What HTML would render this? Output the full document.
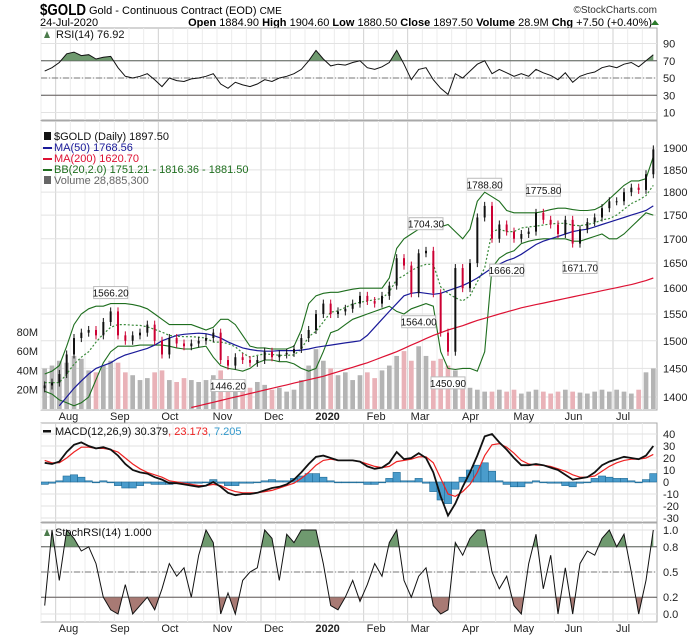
<!DOCTYPE html>
<html><head><meta charset="utf-8">
<style>
html,body{margin:0;padding:0;background:#fff;}
svg{display:block;font-family:"Liberation Sans",sans-serif;}
</style></head>
<body>
<svg id="chart" width="700" height="639" viewBox="0 0 700 639" xmlns="http://www.w3.org/2000/svg">
  <text x="40" y="15" font-size="16" font-weight="bold" textLength="46" lengthAdjust="spacingAndGlyphs">$GOLD</text>
  <text x="89" y="14" font-size="11">Gold - Continuous Contract (EOD) <tspan font-size="10">CME</tspan></text>
  <text x="657" y="13" font-size="10" text-anchor="end" fill="#333">©StockCharts.com</text>
  <text x="40" y="26" font-size="11">24-Jul-2020</text>
  <text x="652" y="26" font-size="11" text-anchor="end"><tspan font-weight="bold">Open</tspan> 1884.90 <tspan font-weight="bold">High</tspan> 1904.60 <tspan font-weight="bold">Low</tspan> 1880.50 <tspan font-weight="bold">Close</tspan> 1897.50 <tspan font-weight="bold">Volume</tspan> 28.9M <tspan font-weight="bold">Chg</tspan> +7.50 (+0.40%)</text>
  <polygon points="651,25 659,25 655,20" fill="#2a7a2a"/>
  <g id="layers"></g>
</svg>
<script>
const N = 84;
const closes = [1420,1425,1440,1475,1505,1515,1520,1510,1535,1555,1510,1500,1510,1515,1530,1500,1475,1505,1495,1490,1495,1500,1505,1515,1465,1455,1470,1465,1460,1465,1480,1470,1475,1478,1485,1505,1520,1550,1570,1550,1555,1560,1570,1585,1575,1570,1585,1605,1660,1645,1590,1670,1675,1590,1515,1480,1640,1600,1650,1745,1770,1700,1730,1715,1700,1710,1715,1755,1740,1730,1710,1740,1690,1720,1735,1745,1765,1780,1780,1800,1810,1805,1840,1897];
const volumes = [42,45,50,48,55,52,40,38,45,50,48,38,35,30,32,38,40,30,28,32,30,28,30,35,40,30,28,25,22,28,25,20,22,18,20,30,45,62,50,42,35,38,30,35,38,32,40,45,55,60,50,65,55,50,52,45,40,30,22,20,18,18,20,18,20,16,18,20,18,16,18,20,18,17,16,18,20,18,20,18,16,20,38,42];
const ma50 = [null,null,1385,1400,1415,1428,1440,1450,1455,1460,1468,1474,1478,1482,1486,1492,1500,1505,1510,1512,1513,1514,1513,1510,1505,1498,1492,1487,1484,1482,1481,1481,1482,1482,1482,1483,1485,1488,1490,1492,1494,1496,1498,1500,1510,1525,1540,1555,1570,1585,1590,1592,1590,1588,1590,1595,1600,1605,1612,1620,1630,1640,1648,1655,1660,1668,1678,1688,1695,1700,1705,1710,1715,1718,1720,1725,1730,1735,1740,1745,1750,1755,1760,1770];
const ma200 = [null,null,null,null,null,null,null,null,null,null,null,null,null,null,null,null,null,null,null,null,1382,1385,1388,1391,1394,1397,1400,1403,1406,1409,1412,1415,1418,1421,1424,1427,1430,1433,1436,1440,1444,1448,1452,1456,1460,1465,1470,1475,1480,1486,1492,1498,1504,1510,1515,1520,1524,1528,1533,1538,1542,1546,1550,1554,1558,1562,1565,1568,1571,1574,1577,1580,1583,1586,1589,1592,1595,1598,1601,1604,1607,1611,1615,1620];
const bbUpper = [1440,1445,1455,1490,1530,1550,1560,1565,1565,1570,1570,1570,1568,1565,1560,1550,1540,1530,1530,1530,1530,1525,1520,1525,1540,1540,1530,1510,1490,1487,1487,1485,1485,1485,1490,1520,1570,1585,1590,1592,1592,1595,1598,1600,1600,1600,1600,1620,1680,1700,1710,1720,1725,1730,1725,1730,1715,1700,1720,1780,1800,1790,1780,1760,1755,1755,1755,1755,1758,1762,1765,1765,1762,1760,1760,1762,1770,1785,1800,1815,1825,1825,1830,1880];
const bbLower = [1410,1405,1395,1390,1385,1390,1400,1430,1460,1480,1490,1490,1490,1492,1492,1492,1492,1490,1487,1485,1485,1488,1490,1470,1455,1450,1448,1445,1450,1460,1465,1465,1462,1462,1458,1450,1445,1450,1480,1515,1520,1530,1540,1545,1550,1555,1560,1565,1555,1550,1560,1565,1570,1565,1480,1450,1448,1450,1450,1445,1480,1640,1660,1670,1675,1690,1695,1698,1700,1700,1700,1700,1695,1695,1700,1705,1710,1700,1700,1710,1725,1740,1755,1750];
const rsi = [58,62,68,78,80,76,77,72,74,75,62,52,50,52,55,48,40,50,47,46,49,50,52,55,43,38,45,42,40,43,48,46,50,52,55,60,70,82,72,64,66,65,68,70,62,60,63,68,82,66,48,60,62,48,38,31,55,50,58,66,70,55,60,56,52,55,52,60,56,53,48,56,45,52,55,57,62,64,62,66,68,63,70,77];
const macd = [16,15,17,25,31,33,30,28,29,27,22,15,10,8,7,4,2,-1,-1,-2,-3,-4,-3,0,-4,-9,-11,-10,-10,-9,-7,-5,-4,-2,2,8,15,21,22,20,18,18,18,17,13,11,12,16,25,19,20,24,20,8,-12,-28,-18,-4,8,22,38,40,33,27,20,14,14,15,14,12,10,6,2,3,4,8,14,17,19,21,20,19,22,30];
const signal = [18,16,16,20,25,29,29,28,28,27,25,20,15,11,8,6,4,1,0,-1,-2,-3,-3,-2,-3,-6,-8,-9,-9,-9,-8,-7,-5,-3,-1,3,8,14,18,19,18,18,18,17,15,13,12,13,17,18,19,21,21,16,3,-10,-12,-8,-2,8,22,31,32,29,24,18,15,14,14,13,11,9,6,4,4,5,9,13,16,18,19,19,20,23];
const stochRsi = [0.1,1,0.4,1,0.9,0.75,0.8,0.6,0.2,0.05,0,0.35,0,0.1,0.2,0.05,0.3,0.6,0.45,0.55,0.2,0.7,1,0.85,0,0.25,0,0.4,0.5,0.55,1,0.9,0.4,0.95,0.85,1,1,1,0.6,0.1,0.05,0.2,0.4,0.15,0.35,0.6,0.45,0.85,1,0.4,0.2,0.45,0.55,0.1,0,0.05,0.85,0.7,0.9,1,1,0.5,0.3,0.45,0.1,0,0.6,0.95,0.3,0.7,0,0.55,0,0.6,0.75,0.7,0.9,1,0.8,0.95,0.5,0,0.4,1];
const monthLabels = ["Aug","Sep","Oct","Nov","Dec","2020","Feb","Mar","Apr","May","Jun","Jul"];
const monthIdx = [2,9,16,23,30,37,44,50,57,64,71,78];
const priceTicks = [1400,1450,1500,1550,1600,1650,1700,1750,1800,1850,1900];
const volTicks = [20,40,60,80];
const rsiTicks = [10,30,50,70,90];
const macdTicks = [-30,-20,-10,0,10,20,30,40];
const stochTicks = [0.0,0.2,0.5,0.8,1.0];
const annLabels = ["1566.20","1446.20","1704.30","1564.00","1450.90","1788.80","1666.20","1775.80","1671.70"];
const annPrices = [1566.2,1446.2,1704.3,1564.0,1450.9,1788.8,1666.2,1775.8,1671.7];
const annIdx = [9,25,52,51,55,60,63,68,73];
const annAbove = [true,false,true,false,false,true,false,true,false];

const NS = "http://www.w3.org/2000/svg";
const L = 41, R = 657;
const layers = document.getElementById('layers');
function mk(tag, attrs, parent) {
  const e = document.createElementNS(NS, tag);
  for (const k in attrs) e.setAttribute(k, attrs[k]);
  (parent || layers).appendChild(e);
  return e;
}
const bw = (R - L) / N;
const xs = i => L + (i + 0.5) * bw;
const priceY = p => 397 - 815 * Math.log(p / 1400);
const volY = v => 409 - v * 0.965;
const rsiY = v => 78 - (v - 50) * 0.8625;
const macdY = v => 482 - v * 1.2;
const stochY = v => 614 - v * 84;
const gridX = i => xs(i) - bw / 2;

function panel(name, top, bot) {
  const r = mk('rect', {x: L, y: top, width: R - L, height: bot - top, fill: '#fff', stroke: '#a8a8a8'});
  
  
  const g = mk('g', {});
  for (let i = 0; i < N; i += 2) {
    mk('line', {x1: gridX(i), x2: gridX(i), y1: top, y2: bot, stroke: monthIdx.includes(i) ? '#d0d0d0' : '#ececec', 'stroke-width': 1}, g);
  }
  
  
  return g;
}
function hgrid(y, g, color) { mk('line', {x1: L, x2: R, y1: y, y2: y, stroke: color || '#e2e2e2'}, g); }
function axisLabel(txt, x, y, anchor, name, weight) {
  const t = mk('text', {x: x, y: y, 'font-size': 11, 'text-anchor': anchor || 'start', fill: '#222', 'font-weight': weight || 'normal'});
  t.textContent = txt;
  
  
  return t;
}
function pathFrom(arr, fx, fy) {
  let d = '', started = false;
  arr.forEach((v, i) => { if (v === null) return; d += (started ? 'L' : 'M') + fx(i).toFixed(1) + ',' + fy(v).toFixed(1); started = true; });
  return d;
}
function thresholdFill(arr, fy, thr, above, color, name, clipTop, clipBot) {
  const ty = fy(thr);
  const id = 'clip-' + name;
  const cp = mk('clipPath', {id: id});
  mk('rect', above ? {x: L, y: clipTop, width: R - L, height: ty - clipTop} : {x: L, y: ty, width: R - L, height: clipBot - ty}, cp);
  const d = pathFrom(arr, xs, fy) + 'L' + xs(arr.length - 1) + ',' + ty + 'L' + xs(0) + ',' + ty + 'Z';
  const p = mk('path', {d: d, fill: color, 'clip-path': 'url(#' + id + ')'});
  
  
}

// ---------- RSI panel ----------
const rsiTop = 28, rsiBot = 120;
const gR = panel('rsi-panel', rsiTop, rsiBot);
rsiTicks.forEach(t => { hgrid(rsiY(t), gR); axisLabel(String(t), 663, rsiY(t) + 4, 'start', 'rsi-tick-label'); });
mk('line', {x1: L, x2: R, y1: rsiY(70), y2: rsiY(70), stroke: '#555'});
mk('line', {x1: L, x2: R, y1: rsiY(30), y2: rsiY(30), stroke: '#555'});
mk('line', {x1: L, x2: R, y1: rsiY(50), y2: rsiY(50), stroke: '#777', 'stroke-dasharray': '6,2,1,2'});
thresholdFill(rsi, rsiY, 70, true, '#6f9a6f', 'rsi-overbought-fill', rsiTop, rsiBot);
thresholdFill(rsi, rsiY, 30, false, '#a87a74', 'rsi-oversold-fill', rsiTop, rsiBot);
const rsiLine = mk('path', {d: pathFrom(rsi, xs, rsiY), fill: 'none', stroke: '#111', 'stroke-width': 1});


const rl = mk('text', {x: 56, y: 38, 'font-size': 11, fill: '#111'}); rl.textContent = 'RSI(14) 76.92';


mk('polygon', {points: '44,38 47,31 50,38', fill: '#4a7a4a'});

// ---------- Main price panel ----------
const mTop = 121, mBot = 410;
const gM = panel('price-panel', mTop, mBot);
priceTicks.forEach(t => { hgrid(priceY(t), gM); axisLabel(String(t), 663, priceY(t) + 4, 'start', 'price-tick-label'); });
volTicks.forEach(t => axisLabel(t + 'M', 38, volY(t) + 4, 'end', 'volume-tick-label'));
const mc = mk('clipPath', {id: 'mainclip'});
mk('rect', {x: L, y: mTop, width: R - L, height: mBot - mTop}, mc);
const mg = mk('g', {'clip-path': 'url(#mainclip)'});
volumes.forEach((v, i) => {
  const down = i > 0 && closes[i] < closes[i - 1];
  const b = mk('rect', {x: xs(i) - bw * 0.32, y: volY(v), width: bw * 0.64, height: 409 - volY(v), fill: down ? '#e9b2b8' : '#b4b4b4'}, mg);
  
  
});
const bbMid = bbUpper.map((u, i) => (u + bbLower[i]) / 2);
const bu = mk('path', {d: pathFrom(bbUpper, xs, priceY), fill: 'none', stroke: '#1e6e1e', 'stroke-width': 1.1}, mg);


const bl = mk('path', {d: pathFrom(bbLower, xs, priceY), fill: 'none', stroke: '#1e6e1e', 'stroke-width': 1.1}, mg);


const bm = mk('path', {d: pathFrom(bbMid, xs, priceY), fill: 'none', stroke: '#3a8a3a', 'stroke-width': 1.2, 'stroke-dasharray': '2,2'}, mg);


const m200 = mk('path', {d: pathFrom(ma200, xs, priceY), fill: 'none', stroke: '#dd1133', 'stroke-width': 1.2}, mg);


const m50 = mk('path', {d: pathFrom(ma50, xs, priceY), fill: 'none', stroke: '#1a1a99', 'stroke-width': 1.2}, mg);


closes.forEach((c, i) => {
  const o = i > 0 ? closes[i - 1] : c - 5;
  const hi = Math.max(o, c), lo = Math.min(o, c);
  const col = c >= o ? '#111' : '#cc0033';
  const w = mk('line', {x1: xs(i), x2: xs(i), y1: priceY(hi) - 4, y2: priceY(lo) + 4, stroke: col, 'stroke-width': 1}, mg);
  
  
  const b = mk('rect', {x: xs(i) - 1, y: priceY(hi), width: 2, height: Math.max(1, priceY(lo) - priceY(hi)), fill: col}, mg);
  
  
});
annLabels.forEach((t, k) => {
  const x = xs(annIdx[k]);
  const py = priceY(annPrices[k]);
  const y = annAbove[k] ? py - 18 : py + 10;
  const g = mk('g', {});
  
  
  mk('rect', {x: x - 17, y: y - 1, width: 34, height: 12, fill: '#fff', stroke: '#bbb'}, g);
  const tx = mk('text', {x: x, y: y + 9, 'font-size': 10, 'text-anchor': 'middle', fill: '#111'}, g);
  tx.textContent = t;
});
const legendItems = [['$GOLD (Daily) 1897.50', '#111', 140], ['MA(50) 1768.56', '#1a1a99', 151], ['MA(200) 1620.70', '#dd1133', 162], ['BB(20,2.0) 1751.21 - 1816.36 - 1881.50', '#1e6e1e', 173], ['Volume 28,885,300', '#666', 184]];
legendItems.forEach((it, k) => {
  const t = mk('text', {x: 54, y: it[2], 'font-size': 11, fill: it[1]});
  t.textContent = it[0];
  
  
  if (k === 0 || k === 4) mk('rect', {x: 44, y: it[2] - 8, width: 7, height: 8, fill: it[1]});
  else mk('rect', {x: 43, y: it[2] - 4, width: 9, height: 2, fill: it[1]});
});
function monthRow(y, name) {
  monthLabels.forEach((m, k) => axisLabel(m, gridX(monthIdx[k]) + 3, y, 'start', name, m === '2020' ? 'bold' : 'normal'));
}
monthRow(420, 'month-label');

// ---------- MACD panel ----------
const cTop = 423, cBot = 522;
const gC = panel('macd-panel', cTop, cBot);
macdTicks.forEach(t => { hgrid(macdY(t), gC); axisLabel(String(t), 663, macdY(t) + 4, 'start', 'macd-tick-label'); });
const cc = mk('clipPath', {id: 'macdclip'});
mk('rect', {x: L, y: cTop, width: R - L, height: cBot - cTop}, cc);
const cg = mk('g', {'clip-path': 'url(#macdclip)'});
macd.forEach((v, i) => {
  const h = (v - signal[i]);
  const y0 = macdY(0), y1 = macdY(h);
  const b = mk('rect', {x: xs(i) - bw / 2, y: Math.min(y0, y1), width: bw, height: Math.max(0.8, Math.abs(y1 - y0)), fill: '#4a9ccc', stroke: '#1f6a94', 'stroke-width': 0.6}, cg);
  
  
});
const sl = mk('path', {d: pathFrom(signal, xs, macdY), fill: 'none', stroke: '#ee2222', 'stroke-width': 1.2}, cg);


const ml = mk('path', {d: pathFrom(macd, xs, macdY), fill: 'none', stroke: '#111', 'stroke-width': 1.8}, cg);


const mlg = mk('text', {x: 55, y: 435, 'font-size': 11, fill: '#111'});
mlg.innerHTML = 'MACD(12,26,9) 30.379<tspan fill="#ee2222">, 23.173</tspan><tspan fill="#3399cc">, 7.205</tspan>';


mk('rect', {x: 43, y: 430, width: 8, height: 2.5, fill: '#111'});

// ---------- StochRSI panel ----------
const sTop = 523, sBot = 622;
const gS = panel('stochrsi-panel', sTop, sBot);
stochTicks.forEach(t => { hgrid(stochY(t), gS); axisLabel(t.toFixed(1), 663, stochY(t) + 4, 'start', 'stoch-tick-label'); });
mk('line', {x1: L, x2: R, y1: stochY(0.8), y2: stochY(0.8), stroke: '#555'});
mk('line', {x1: L, x2: R, y1: stochY(0.2), y2: stochY(0.2), stroke: '#555'});
mk('line', {x1: L, x2: R, y1: stochY(0.5), y2: stochY(0.5), stroke: '#777', 'stroke-dasharray': '6,2,1,2'});
thresholdFill(stochRsi, stochY, 0.8, true, '#6f9a6f', 'stoch-overbought-fill', sTop, sBot);
thresholdFill(stochRsi, stochY, 0.2, false, '#a87a74', 'stoch-oversold-fill', sTop, sBot);
const stl = mk('path', {d: pathFrom(stochRsi, xs, stochY), fill: 'none', stroke: '#111', 'stroke-width': 1});


const slg = mk('text', {x: 55, y: 536, 'font-size': 11, fill: '#111'});
slg.textContent = 'StochRSI(14) 1.000';


mk('polygon', {points: '44,536 47,529 50,536', fill: '#4a7a4a'});
monthRow(632, 'bottom-month-label');
</script>
</body></html>
